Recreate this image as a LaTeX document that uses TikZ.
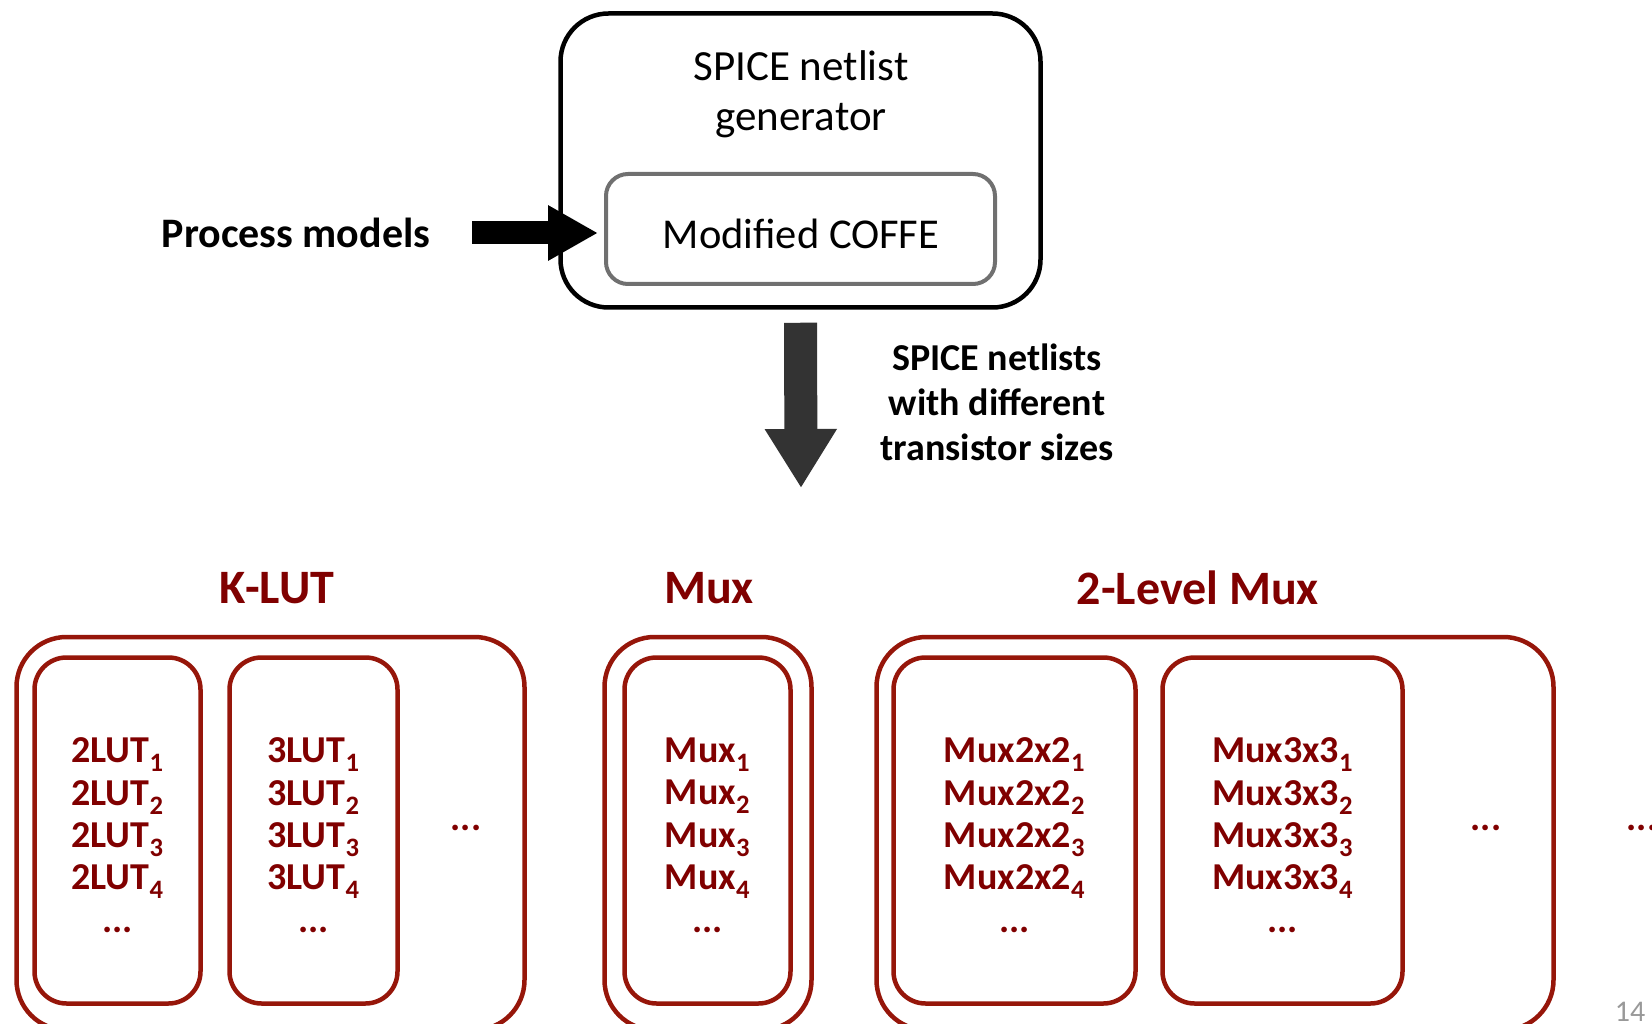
\documentclass[tikz,border=0pt]{standalone}
\usepackage{fontspec}
\setmainfont{Carlito}
\usetikzlibrary{arrows.meta}
\definecolor{boxred}{RGB}{150,22,10}
\definecolor{txtred}{RGB}{128,0,0}
\definecolor{arrowgray}{RGB}{51,51,51}
\definecolor{coffegray}{RGB}{112,112,112}

\begin{document}
\begin{tikzpicture}[x=1pt, y=-1pt,
  genbox/.style={draw, line width=4.5pt, rounded corners=48pt, inner sep=0pt},
  coffebox/.style={draw=coffegray, line width=4pt, rounded corners=22pt, inner sep=0pt},
  groupbox/.style={draw=boxred, line width=4.5pt, rounded corners=50pt, inner sep=0pt},
  listbox/.style={draw=boxred, line width=4.5pt, rounded corners=32pt, inner sep=0pt, minimum height=346pt},
  listtext/.style={text=txtred, align=center, yshift=-5pt, font=\bfseries\fontsize{38}{42.2}\selectfont},
  grouptitle/.style={text=txtred, font=\bfseries\fontsize{48}{56}\selectfont},
  bigarrow/.style={line width=23pt, -{Triangle[length=50pt,width=52pt]}}]
\clip (0,0) rectangle (1652,1024);
\fill[white] (0,0) rectangle (1652,1024);
%generator
\node[genbox, minimum width=480pt, minimum height=294pt] (gen) at (800.5,160.5) {};
\node[align=center, font=\fontsize{43}{50}\selectfont] (gentitle) at (801,94) {SPICE netlist\\generator};
\node[coffebox, minimum width=389pt, minimum height=110pt] (coffe) at (800.5,229) {};
\node[font=\fontsize{42.5}{48}\selectfont] (coffetxt) at (801,234) {Modified COFFE};
%input
\node[font=\bfseries\fontsize{42}{50}\selectfont, inner sep=0pt] (pm) at (296,233) {Process models};
\draw[bigarrow, shorten <=42pt, shorten >=6pt] (pm.east) -- (pm.east -| coffe.west);
%output
\coordinate (netend) at (801,488);
\draw[arrowgray, line width=33pt, -{Triangle[length=59pt,width=68pt]}, shorten <=13pt] (gen.south) -- (netend);
\node[align=center, font=\bfseries\fontsize{38}{45}\selectfont] (netlbl) at (997,402) {SPICE netlists\\with different\\transistor sizes};

%K-LUT
\node[grouptitle] (kluttitle) at (277,588) {K-LUT};
\node[groupbox, minimum width=508pt, minimum height=393pt] (klut) at (270.5,833.5) {};
\node[listbox, minimum width=166pt] (lut2) at (117.5,830.5) {};
\node[listbox, minimum width=168pt] (lut3) at (313.5,830.5) {};
\node[listtext] (lut2txt) at (lut2.center) {2LUT\textsubscript{1}\\2LUT\textsubscript{2}\\2LUT\textsubscript{3}\\2LUT\textsubscript{4}\\[1pt]...};
\node[listtext] (lut3txt) at (lut3.center) {3LUT\textsubscript{1}\\3LUT\textsubscript{2}\\3LUT\textsubscript{3}\\3LUT\textsubscript{4}\\[1pt]...};
\node[listtext] (klutmore) at (466,823) {...};

%Mux
\node[grouptitle] (muxtitle) at (709,588) {Mux};
\node[groupbox, minimum width=207pt, minimum height=393pt] (mux) at (708,833.5) {};
\node[listbox, minimum width=166pt] (mux1) at (707.5,830.5) {};
\node[listtext] (mux1txt) at (mux1.center) {Mux\textsubscript{1}\\Mux\textsubscript{2}\\Mux\textsubscript{3}\\Mux\textsubscript{4}\\[1pt]...};

%2-Level Mux
\node[grouptitle] (lvltitle) at (1198,588) {2-Level Mux};
\node[groupbox, minimum width=677pt, minimum height=393pt] (lvl) at (1215,833.5) {};
\node[listbox, minimum width=242pt] (mux22) at (1014.5,830.5) {};
\node[listbox, minimum width=240pt] (mux33) at (1282.5,830.5) {};
\node[listtext] (mux22txt) at (mux22.center) {Mux2x2\textsubscript{1}\\Mux2x2\textsubscript{2}\\Mux2x2\textsubscript{3}\\Mux2x2\textsubscript{4}\\[1pt]...};
\node[listtext] (mux33txt) at (mux33.center) {Mux3x3\textsubscript{1}\\Mux3x3\textsubscript{2}\\Mux3x3\textsubscript{3}\\Mux3x3\textsubscript{4}\\[1pt]...};
\node[listtext] (lvlmore) at (1486,823) {...};
\node[listtext] (allmore) at (1642,823) {...};

\node[text=gray!80, font=\fontsize{30}{36}\selectfont] (pgnum) at (1630,1012) {14};
\end{tikzpicture}
\end{document}
